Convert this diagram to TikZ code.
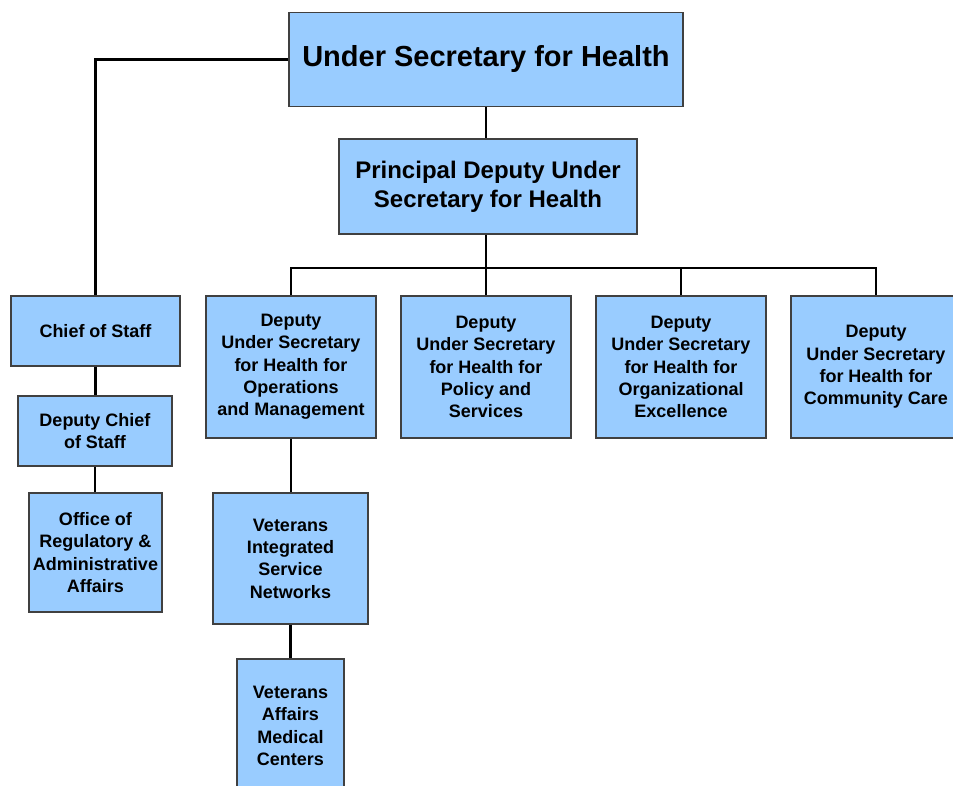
\documentclass[tikz,border=0pt]{standalone}
\usepackage{fontspec}
\setmainfont{Liberation Sans}
\definecolor{boxfill}{RGB}{153,204,255}
\definecolor{boxline}{RGB}{64,64,64}
\begin{document}
\begin{tikzpicture}[x=1pt,y=-1pt,
  box/.style={draw=boxline, line width=1.3pt, fill=boxfill, inner sep=0pt, align=center,
    font=\fontsize{18}{22.3}\selectfont\bfseries},
  conn/.style={draw=black, line width=2.8pt}]
\useasboundingbox (0,0) rectangle (953,786);
\coordinate (busy) at (486,268);
% nodes
\node[box, minimum width=394pt, minimum height=94pt, font=\fontsize{29}{34}\selectfont\bfseries] (ush) at (486,59.5) {Under Secretary for Health};
\node[box, minimum width=298pt, minimum height=95pt, font=\fontsize{24}{29}\selectfont\bfseries] (pdush) at (488,186.5) {Principal Deputy Under\\Secretary for Health};
\node[box, minimum width=169pt, minimum height=70pt] (chief) at (95.5,331) {Chief of Staff};
\node[box, minimum width=154pt, minimum height=70pt] (dchief) at (95,431) {Deputy Chief\\of Staff};
\node[box, minimum width=133pt, minimum height=119pt] (ora) at (95.5,552.5) {Office of\\Regulatory \&\\Administrative\\Affairs};
\node[box, minimum width=170pt, minimum height=142pt] (ops) at (291,367) {Deputy\\Under Secretary\\for Health for\\Operations\\and Management};
\node[box, minimum width=170pt, minimum height=142pt] (pol) at (486,367) {Deputy\\Under Secretary\\for Health for\\Policy and\\Services};
\node[box, minimum width=170pt, minimum height=142pt] (org) at (681,367) {Deputy\\Under Secretary\\for Health for\\Organizational\\Excellence};
\node[box, minimum width=170pt, minimum height=142pt] (comm) at (876,367) {Deputy\\Under Secretary\\for Health for\\Community Care};
\node[box, minimum width=155pt, minimum height=131pt] (visn) at (290.5,558.5) {Veterans\\Integrated\\Service\\Networks};
\node[box, minimum width=107pt, minimum height=134pt] (vamc) at (290.5,726) {Veterans\\Affairs\\Medical\\Centers};
% connectors
\draw[conn] (ush.south) -- (ush.south |- pdush.north);
\draw[conn] (ush.west) -| (chief.north);
\draw[conn] (chief.south) -- (chief.south |- dchief.north);
\draw[conn] (dchief.south) -- (dchief.south |- ora.north);
\draw[conn] (pdush.south -| busy) -- (busy);
\draw[conn] (ops.north) |- (busy) -| (comm.north);
\draw[conn] (pol.north) -- (pol.north |- busy);
\draw[conn] (org.north) -- (org.north |- busy);
\draw[conn] (ops.south) -- (ops.south |- visn.north);
\draw[conn] (visn.south) -- (visn.south |- vamc.north);
\end{tikzpicture}
\end{document}
